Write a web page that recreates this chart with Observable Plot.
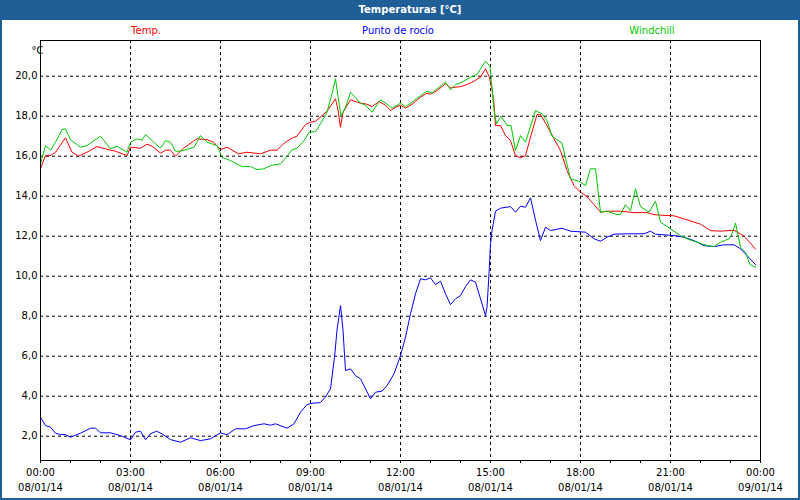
<!DOCTYPE html>
<html><head><meta charset="utf-8">
<script src="https://cdn.jsdelivr.net/npm/d3@7"></script>
<script src="https://cdn.jsdelivr.net/npm/@observablehq/plot@0.6"></script>
<style>
body{margin:0;width:800px;height:500px;overflow:hidden;background:#fff;font-family:"DejaVu Sans",sans-serif;position:relative}
#title{position:absolute;left:0;top:0;width:800px;height:20px;background:#1f5f97;color:#fff;font-weight:bold;font-size:10px;line-height:20px;text-align:center;box-sizing:border-box;padding-left:20px}
.leg{position:absolute;top:25px;font-size:10px;line-height:12px;transform:translateX(-50%);white-space:nowrap}
#chart{position:absolute;left:0;top:36px}
#border{position:absolute;left:0;top:0;width:800px;height:500px;box-sizing:border-box;border:2px solid #1f5f97;pointer-events:none}
</style>
</head><body>
<div id="title">Temperaturas [°C]</div>
<div class="leg" style="left:146px;color:#ff0000">Temp.</div>
<div class="leg" style="left:398px;color:#0000ff">Punto de rocío</div>
<div class="leg" style="left:652px;color:#00c800">Windchill</div>
<div id="chart"></div>
<div id="border"></div>
<script>
// time in minutes since 08/01/14 00:00
const tempMin = [0,10,20,30,50,63,76,93,113,140,150,173,180,200,213,223,240,250,260,270,286,313,333,346,360,373,396,413,440,460,473,486,500,513,530,540,550,563,573,590,595,600,605,620,640,653,663,677,690,700,710,720,730,743,760,773,780,793,810,820,840,853,867,880,890,897,903,907,910,920,930,940,950,960,970,980,993,1000,1013,1027,1040,1053,1067,1080,1093,1107,1120,1133,1160,1187,1213,1227,1240,1267,1293,1320,1340,1360,1387,1407,1420,1430];
const tempVal = [15.37,16.03,16.03,16.2,16.92,16.2,16.0,16.2,16.48,16.3,16.25,16.03,16.45,16.4,16.6,16.5,16.15,16.3,16.3,16.0,16.4,16.87,16.83,16.7,16.33,16.45,16.12,16.2,16.12,16.3,16.3,16.62,16.87,17.0,17.58,17.7,17.75,18.03,18.25,18.87,18.3,17.45,18.2,18.82,18.65,18.6,18.48,18.73,18.55,18.28,18.45,18.55,18.4,18.6,18.95,19.15,19.1,19.28,19.62,19.42,19.48,19.58,19.75,19.95,20.37,20.0,19.37,18.6,17.53,17.53,17.03,16.78,16.03,15.92,16.03,16.95,18.08,18.08,17.53,16.87,16.28,15.28,14.53,14.2,13.98,13.58,13.2,13.25,13.25,13.18,13.18,13.08,13.05,13.02,12.82,12.6,12.28,12.25,12.3,12.0,11.65,11.35];

const dewMin = [0,10,20,30,40,50,60,80,100,110,120,140,160,180,190,200,210,220,232,243,260,280,300,320,340,360,373,390,410,427,447,460,470,493,507,520,533,543,560,570,580,588,593,600,605,610,620,630,640,660,670,683,693,707,720,730,740,750,760,770,780,790,800,810,820,830,840,850,860,870,880,890,893,897,900,903,910,920,940,950,960,970,980,990,1000,1010,1020,1043,1060,1090,1107,1120,1133,1147,1173,1207,1220,1230,1267,1287,1307,1327,1347,1367,1387,1400,1413,1430];
const dewVal = [2.95,2.53,2.45,2.15,2.08,2.08,1.95,2.15,2.4,2.4,2.17,2.17,2.03,1.82,2.2,2.25,1.82,2.12,2.25,2.12,1.83,1.7,1.92,1.78,1.87,2.17,2.07,2.37,2.37,2.53,2.62,2.55,2.62,2.4,2.62,3.2,3.58,3.65,3.68,3.97,4.37,5.95,7.3,8.53,7.3,5.28,5.37,5.03,4.87,3.87,4.2,4.25,4.53,5.12,6.03,6.95,8.12,9.12,9.87,9.82,9.92,9.58,9.75,9.12,8.58,8.87,9.03,9.48,9.82,9.7,8.87,8.03,8.45,10.12,11.62,12.28,13.25,13.4,13.48,13.2,13.5,13.45,13.92,12.8,11.78,12.45,12.28,12.4,12.25,12.2,11.87,11.75,11.95,12.1,12.12,12.12,12.25,12.1,12.03,11.95,11.78,11.53,11.48,11.57,11.57,11.37,11.03,10.58];

const windMin = [0,10,20,30,43,50,60,80,93,107,120,140,153,173,180,193,203,210,223,240,250,260,270,280,307,320,333,353,363,380,403,420,433,447,460,480,493,503,513,527,537,550,560,573,583,590,595,601,610,620,640,650,663,680,693,703,720,730,743,760,773,783,793,810,820,830,843,860,873,883,890,899,907,912,921,933,941,950,960,970,990,1003,1013,1023,1043,1050,1060,1077,1090,1100,1110,1120,1133,1153,1160,1170,1180,1190,1200,1217,1230,1240,1260,1280,1293,1313,1333,1347,1360,1377,1383,1390,1400,1410,1419,1430];
const windVal = [15.62,16.53,16.3,16.7,17.33,17.37,16.82,16.45,16.53,16.78,17.0,16.37,16.5,16.2,16.7,16.87,16.8,17.08,16.78,16.4,16.78,16.7,16.25,16.25,16.45,17.03,16.7,16.53,15.95,15.78,15.48,15.48,15.33,15.37,15.53,15.62,16.0,16.32,16.4,16.78,17.2,17.23,17.62,18.2,19.12,19.87,19.0,18.0,18.45,19.2,18.65,18.55,18.2,18.82,18.6,18.4,18.65,18.48,18.7,19.03,19.25,19.15,19.37,19.7,19.32,19.58,19.7,19.95,20.08,20.48,20.75,20.5,18.3,17.62,18.0,17.53,17.53,16.28,17.03,16.7,18.28,18.12,17.78,17.0,16.65,15.9,14.87,14.75,14.53,15.37,15.37,13.2,13.25,13.08,13.1,13.58,13.28,14.37,13.48,13.2,13.75,12.7,12.37,12.03,11.87,11.7,11.53,11.48,11.7,11.87,12.12,12.65,11.45,11.2,10.58,10.45];

const xMajor = [0,180,360,540,720,900,1080,1260,1440];
const xHours = d3.range(0, 1441, 60);
const timeLabels = ["00:00","03:00","06:00","09:00","12:00","15:00","18:00","21:00","00:00"];
const dateLabels = ["08/01/14","08/01/14","08/01/14","08/01/14","08/01/14","08/01/14","08/01/14","08/01/14","09/01/14"];
const yTicks = [2,4,6,8,10,12,14,16,18,20];
const yTickLabels = ["2,0","4,0","6,0","8,0","10,0","12,0","14,0","16,0","18,0","20,0"];
const yUnit = "°C";

const rows = (m, v) => m.map((t, i) => ({t, v: v[i]}));
const temp = rows(tempMin, tempVal);
const dew = rows(dewMin, dewVal);
const wind = rows(windMin, windVal);
const yLab = new Map(yTicks.map((d, i) => [d, yTickLabels[i]]));
const xIdx = xMajor.map((d, i) => ({d, i}));

const chart = Plot.plot({
  width: 800, height: 464,
  marginTop: 4, marginBottom: 40, marginLeft: 40, marginRight: 40,
  style: {fontFamily: "DejaVu Sans", fontSize: "10px", color: "black", background: "transparent", overflow: "visible"},
  x: {domain: [0, 1440]},
  y: {domain: [0.785, 21.785]},
  marks: [
    Plot.gridY(yTicks, {stroke: "black", strokeOpacity: 1, strokeDasharray: "3,3"}),
    Plot.gridX(xMajor, {stroke: "black", strokeOpacity: 1, strokeDasharray: "3,3"}),
    Plot.axisY(yTicks, {tickSize: 0, tickPadding: 3, tickFormat: d => yLab.get(d), label: null}),
    Plot.axisX(xHours, {tickSize: 3, tickFormat: () => "", label: null}),
    Plot.text(xIdx, {x: "d", frameAnchor: "bottom", dy: 15, text: d => timeLabels[d.i]}),
    Plot.text(xIdx, {x: "d", frameAnchor: "bottom", dy: 30, text: d => dateLabels[d.i]}),
    Plot.line(dew, {x: "t", y: "v", stroke: "#0000ff", strokeWidth: 1}),
    Plot.line(temp, {x: "t", y: "v", stroke: "#ff0000", strokeWidth: 1}),
    Plot.line(wind, {x: "t", y: "v", stroke: "#00c800", strokeWidth: 1}),
    Plot.frame({stroke: "black"}),
    Plot.text([yUnit], {frameAnchor: "top-left", dx: -9, dy: 6, text: d => d})
  ]
});
document.getElementById("chart").appendChild(chart);
</script>
</body></html>
